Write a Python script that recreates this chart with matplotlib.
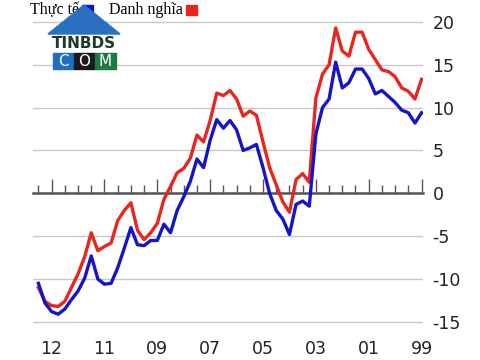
import numpy as np
import matplotlib
matplotlib.use("Agg")
import matplotlib.pyplot as plt
from matplotlib.patches import Polygon, Rectangle

plt.rcParams['axes.unicode_minus'] = False

# quarterly series, first point = 1999 Q1
danh_nghia = [13.3, 11.0, 11.9, 12.3, 13.6, 14.2, 14.4, 15.6, 16.8, 18.8,
              18.8, 16.0, 16.6, 19.3, 15.0, 13.9, 11.1, 1.3, 2.3, 1.6,
              -2.2, -1.0, 1.0, 3.0, 6.0, 9.1, 9.6, 9.0, 11.0, 12.0,
              11.4, 11.7, 8.5, 6.0, 6.8, 4.1, 2.9, 2.4, 0.8, -0.7,
              -3.5, -4.6, -5.4, -4.3, -1.1, -2.0, -3.2, -5.8, -6.2, -6.7,
              -4.6, -7.4, -9.4, -11.0, -12.6, -13.2, -13.1, -12.6, -11.0]
thuc_te = [9.4, 8.2, 9.4, 9.7, 10.6, 11.3, 12.0, 11.6, 13.4, 14.5,
           14.5, 12.9, 12.3, 15.3, 11.0, 10.0, 6.9, -1.5, -0.9, -1.3,
           -4.8, -3.0, -2.0, 0.0, 3.0, 5.7, 5.3, 5.0, 7.4, 8.5,
           7.6, 8.6, 6.2, 3.0, 4.0, 1.4, -0.4, -2.0, -4.6, -3.6,
           -5.5, -5.5, -6.1, -6.0, -4.0, -6.4, -8.7, -10.5, -10.6, -10.0,
           -7.3, -9.9, -11.4, -12.4, -13.5, -14.1, -13.8, -12.8, -10.5]
nam = 1999 + np.arange(len(danh_nghia)) / 4

nhan_x = ['99', '01', '03', '05', '07', '09', '11', '12']
vi_tri_x = [1999, 2001, 2003, 2005, 2007, 2009, 2011, 2013]
muc_y = [-15, -10, -5, 0, 5, 10, 15, 20]

do = '#e8261f'
xanh = '#1515c8'

fig = plt.figure(figsize=(4.8, 3.6), dpi=100)
ax = fig.add_axes([0.069, 0.082, 0.812, 0.881])

ax.plot(nam, danh_nghia, color=do, lw=2.4, zorder=3)
ax.plot(nam, thuc_te, color=xanh, lw=2.4, zorder=4)

ax.set_xlim(2013.7, 1998.95)
ax.set_ylim(-16, 21)

# y axis on the right, grid lines only
ax.yaxis.tick_right()
ax.set_yticks(muc_y)
ax.tick_params(axis='y', length=0, pad=7, labelsize=12.5, labelcolor='#222222')
ax.grid(axis='y', color='#c8c8c8', lw=1)
ax.set_axisbelow(True)
for s in ['top', 'left', 'right']:
    ax.spines[s].set_visible(False)

# zero line with half-year ticks pointing up
ax.spines['bottom'].set_position(('data', 0))
ax.spines['bottom'].set_color('#555555')
ax.spines['bottom'].set_linewidth(1.8)
ax.spines['bottom'].set_zorder(2)
ax.set_xticks(vi_tri_x)
ax.set_xticks(np.arange(1999, 2013.6, 0.5), minor=True)
ax.tick_params(axis='x', which='major', direction='in', length=10, width=1,
               color='#555555', labelbottom=False)
ax.tick_params(axis='x', which='minor', direction='in', length=6, width=1,
               color='#555555')

# year labels at the bottom
sec = ax.secondary_xaxis('bottom')
sec.set_xticks(vi_tri_x, nhan_x)
sec.tick_params(length=0, pad=7, labelsize=12.5, labelcolor='#222222')
sec.spines['bottom'].set_visible(False)

# legend at the top
fig.text(183 / 480, 1 - 10 / 360, 'Danh nghĩa', ha='right', va='center',
         fontsize=11.5, family='Liberation Serif')
fig.patches.append(Rectangle((186 / 480, 1 - 15 / 360), 11 / 480, 10 / 360,
                             transform=fig.transFigure, color=do))
fig.text(79 / 480, 1 - 10 / 360, 'Thực tế', ha='right', va='center',
         fontsize=11.5, family='Liberation Serif')
fig.patches.append(Rectangle((82 / 480, 1 - 15 / 360), 11 / 480, 10 / 360,
                             transform=fig.transFigure, color=xanh))

# watermark logo
fig.patches.append(Polygon([(48 / 480, 1 - 34 / 360), (120 / 480, 1 - 34 / 360),
                            (84 / 480, 1 - 5 / 360)],
                           transform=fig.transFigure, color='#2a6fc0', zorder=5))
fig.text(84 / 480, 1 - 43 / 360, 'TINBDS', ha='center', va='center',
         fontsize=11, fontweight='bold', color='#1b3a2a', zorder=6)
for k, (mau, chu) in enumerate(zip(['#1f6fc0', '#1a1a1a', '#1d7a45'], 'COM')):
    fig.patches.append(Rectangle(((53 + k * 21) / 480, 1 - 69 / 360), 21 / 480,
                                 16 / 360, transform=fig.transFigure,
                                 color=mau, zorder=5))
    fig.text((63.5 + k * 21) / 480, 1 - 61.5 / 360, chu, ha='center', va='center',
             fontsize=11, color='white', zorder=6)

fig.savefig('out.png', dpi=100)
